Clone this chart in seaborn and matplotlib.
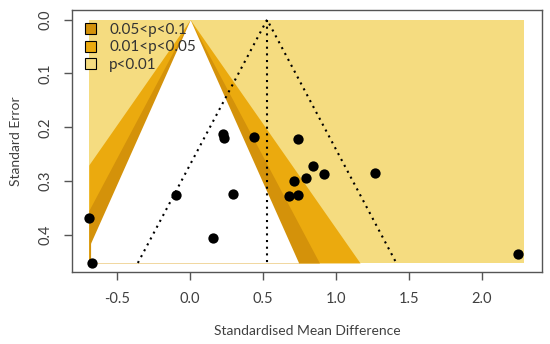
import numpy as np
import pandas as pd
import seaborn as sns
import matplotlib.pyplot as plt
from matplotlib.patches import Patch

# study effects (SMD) and standard errors
smd = [0.228, 0.232, 0.436, -0.096, 0.295, -0.697, 0.158, -0.673, 0.742,
       0.842, 0.918, 0.792, 0.710, 0.678, 0.737, 1.267, 2.244]
se = [0.212, 0.220, 0.218, 0.325, 0.323, 0.369, 0.405, 0.452, 0.222,
      0.272, 0.287, 0.295, 0.300, 0.328, 0.326, 0.285, 0.435]

estimate = 0.527          # pooled estimate (vertical dotted line)
se_max = 0.452
x_lo, x_hi = -0.695, 2.29  # shaded range

levels = ["0.05<p<0.1", "0.01<p<0.05", "p<0.01"]
z_vals = [1.645, 1.96, 2.576]
colors = ["#D4920A", "#EBAA0E", "#F5DC80"]

sns.set_style("ticks")
plt.rcParams['font.family'] = ['Lato', 'DejaVu Sans']

fig = plt.figure(figsize=(5.5, 3.44), dpi=100)
ax = fig.add_axes([0.131, 0.209, 0.854, 0.762])

# contour shading: light background, then orange, dark, white towards the apex
grid = np.linspace(0, se_max, 200)
ax.fill_betweenx(grid, x_lo, x_hi, color=colors[2], lw=0, zorder=1)
ax.fill_betweenx(grid, np.clip(-z_vals[2] * grid, x_lo, x_hi),
                 np.clip(z_vals[2] * grid, x_lo, x_hi), color=colors[1], lw=0, zorder=2)
ax.fill_betweenx(grid, np.clip(-z_vals[1] * grid, x_lo, x_hi),
                 np.clip(z_vals[1] * grid, x_lo, x_hi), color=colors[0], lw=0, zorder=3)
ax.fill_betweenx(grid, np.clip(-z_vals[0] * grid, x_lo + 0.012, x_hi),
                 np.clip(z_vals[0] * grid, x_lo, x_hi), color="white", lw=0, zorder=4)

# pseudo confidence funnel around the estimate
ax.plot([estimate - 1.96 * se_max, estimate, estimate + 1.96 * se_max],
        [se_max, 0, se_max], color="black", ls=(0, (1, 2.2)), lw=1.5, zorder=5)
ax.plot([estimate, estimate], [0, se_max], color="black", ls=(0, (1, 2.2)), lw=1.5, zorder=5)

df = pd.DataFrame({"smd": smd, "se": se})
sns.scatterplot(data=df, x="smd", y="se", color="black", s=55, edgecolor="black",
                linewidth=0, ax=ax, zorder=6)

ax.set_xlim(-0.81, 2.41)
ax.set_ylim(0.469, -0.018)
ax.set_xticks([-0.5, 0.0, 0.5, 1.0, 1.5, 2.0])
ax.set_yticks([0.0, 0.1, 0.2, 0.3, 0.4])
ax.set_xticklabels(["-0.5", "0.0", "0.5", "1.0", "1.5", "2.0"])
ax.set_yticklabels(["0.0", "0.1", "0.2", "0.3", "0.4"], rotation=90, va="center")

txt = "#404040"
ax.tick_params(axis="both", direction="out", length=6, width=1, color="#555555",
               labelsize=10.5, labelcolor=txt, pad=8)
for s in ax.spines.values():
    s.set_color("#555555")
    s.set_linewidth(1)
    s.set_visible(True)

ax.set_xlabel("Standardised Mean Difference", fontsize=10, color=txt, labelpad=14)
ax.set_ylabel("Standard Error", fontsize=10, color=txt, labelpad=12)

handles = [Patch(facecolor=c, edgecolor="black", lw=0.8) for c in colors]
ax.legend(handles, levels, loc="upper left", frameon=False, fontsize=11,
          handlelength=0.72, handleheight=0.72, handletextpad=0.85,
          labelspacing=0.22, borderaxespad=0, borderpad=0,
          bbox_to_anchor=(0.028, 0.95), labelcolor="#333333")

fig.savefig("out.png", dpi=100)
